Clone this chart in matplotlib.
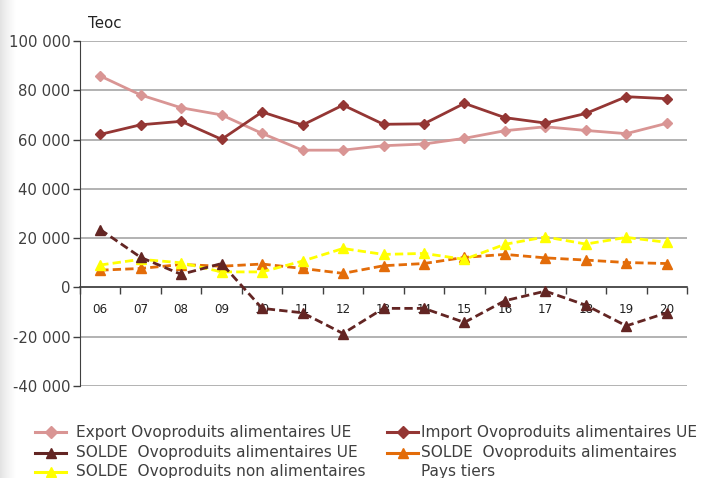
import numpy as np
import matplotlib
matplotlib.use("Agg")
import matplotlib.pyplot as plt
from matplotlib.lines import Line2D
from matplotlib.ticker import FuncFormatter

plt.rcParams['font.family'] = ['DejaVu Sans']

# Data (Teoc)
years = ["06", "07", "08", "09", "10", "11", "12", "13", "14", "15", "16", "17", "18", "19", "20"]
export_ue = [85800, 78100, 72900, 70000, 62500, 55700, 55700, 57500, 58200, 60500, 63600, 65200, 63700, 62400, 66600]
import_ue = [62100, 66000, 67400, 60100, 71200, 65900, 74000, 66200, 66400, 74700, 68900, 66700, 70600, 77400, 76600]
solde_ue = [23500, 12200, 5300, 9700, -8500, -10300, -18700, -8500, -8500, -14200, -5400, -1500, -7200, -15600, -10300]
solde_non_alim = [9100, 11400, 10000, 6300, 6300, 10700, 15800, 13400, 13800, 11400, 17500, 20500, 17600, 20300, 18300]
solde_pays_tiers = [7000, 7700, 9300, 8600, 9500, 7700, 5700, 8800, 9700, 12200, 13400, 12000, 11100, 10100, 9700]

labels = ["Export Ovoproduits alimentaires UE",
          "SOLDE  Ovoproduits alimentaires UE",
          "SOLDE  Ovoproduits non alimentaires",
          "Import Ovoproduits alimentaires UE",
          "SOLDE  Ovoproduits alimentaires\nPays tiers"]

c_export = '#D99594'
c_import = '#943634'
c_solde = '#632523'
c_yellow = '#FFFF00'
c_orange = '#E36C09'
text_col = '#3F3F3F'

W, H = 701, 478
fig = plt.figure(figsize=(W / 100, H / 100), dpi=100)

# light shadow on the left edge
sh = fig.add_axes([0, 0, 16 / W, 1], zorder=-5)
sh.imshow(np.linspace(0, 1, 50)[None, :], aspect='auto', cmap='Greys_r', vmin=-4, vmax=1,
          extent=[0, 1, 0, 1])
sh.axis('off')

ax = fig.add_axes([80 / W, 1 - 386 / H, 607 / W, 345 / H])
ax.patch.set_alpha(0)

x = np.arange(len(years))
dash = (0, (3, 1.5))
ax.plot(x, export_ue, color=c_export, marker='D', markersize=5.5, linewidth=2, zorder=3)
ax.plot(x, import_ue, color=c_import, marker='D', markersize=5.5, linewidth=2, zorder=3)
ax.plot(x, solde_pays_tiers, color=c_orange, marker='^', markersize=7, linewidth=2, linestyle=dash, zorder=3)
ax.plot(x, solde_non_alim, color=c_yellow, marker='^', markersize=7, linewidth=2, linestyle=dash, zorder=3)
ax.plot(x, solde_ue, color=c_solde, marker='^', markersize=7, linewidth=2, linestyle=dash, zorder=4)

ax.set_xlim(-0.5, len(years) - 0.5)
ax.set_ylim(-40000, 100000)
ax.set_yticks(range(-40000, 100001, 20000))
ax.yaxis.set_major_formatter(FuncFormatter(lambda v, p: f"{int(v):,}".replace(",", " ")))
ax.grid(axis='y', color='#A6A6A6', linewidth=1.2, zorder=0)
ax.set_axisbelow(True)

for s in ['top', 'right']:
    ax.spines[s].set_visible(False)
ax.spines['left'].set_color('#404040')
ax.spines['bottom'].set_position(('data', 0))
ax.spines['bottom'].set_color('#404040')
ax.spines['bottom'].set_linewidth(1.2)
ax.tick_params(axis='y', labelsize=10.7, colors=text_col, length=5, width=1, pad=2)

# ticks between categories, labels at the centres
ax.set_xticks(np.arange(-0.5, len(years), 1.0))
ax.set_xticklabels([])
ax.set_xticks(x, minor=True)
ax.set_xticklabels(years, minor=True)
ax.tick_params(axis='x', which='major', length=5, width=1, color='#404040', direction='out')
ax.tick_params(axis='x', which='minor', length=0, pad=11, labelsize=8.6, labelcolor='#222222')

fig.text(88 / W, 1 - 23 / H, "Teoc", fontsize=10.8, color='#222222', va='center')

# legend drawn by hand
handles = [(c_export, 'D'), (c_solde, '^'), (c_yellow, '^'), (c_import, 'D'), (c_orange, '^')]
pos = [(35, 432), (35, 452.5), (35, 471.5), (387, 432), (387, 452.5)]
text_x = [76, 76, 76, 421, 421]
for (col, mk), (px, py), tx, lab in zip(handles, pos, text_x, labels):
    yy = 1 - py / H
    fig.add_artist(Line2D([px / W, (px + 31) / W], [yy, yy], color=col, linewidth=2.2))
    fig.add_artist(Line2D([(px + 15.5) / W], [yy], color=col, marker=mk,
                          markersize=6 if mk == 'D' else 7.5))
    for i, part in enumerate(lab.split("\n")):
        fig.text(tx / W, yy - 19 * i / H, part, fontsize=11.1, color=text_col, va='center')

fig.savefig("out.png", dpi=100)
